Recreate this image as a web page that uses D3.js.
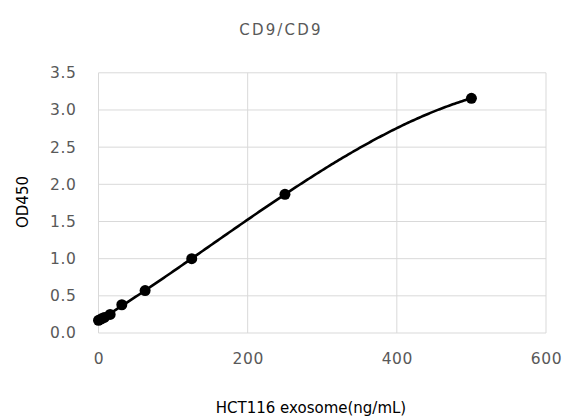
<!DOCTYPE html>
<html><head><meta charset="utf-8">
<script src="https://cdn.jsdelivr.net/npm/d3@7"></script>
<style>body{margin:0;background:#fff}svg text{font-family:"DejaVu Sans",Verdana,sans-serif}</style>
</head><body>
<svg id="c" width="567" height="418"></svg>
<script>
const concentrations = [0, 3.9, 7.8, 15.6, 31.25, 62.5, 125, 250, 500];
const od450 = [0.17, 0.19, 0.21, 0.25, 0.38, 0.57, 1.0, 1.866, 3.157];
const xTicks = [0, 200, 400, 600];
const yTicks = [0, 0.5, 1.0, 1.5, 2.0, 2.5, 3.0, 3.5];
const title = "CD9/CD9";
const xTitle = "HCT116 exosome(ng/mL)";
const yTitle = "OD450";

const svg = d3.select("#c");
const x = d3.scaleLinear().domain([0, 600]).range([98.5, 546]);
const y = d3.scaleLinear().domain([0, 3.5]).range([333, 72.8]);
const data = concentrations.map((c, i) => ({c, v: od450[i]}));

// cubic polynomial trendline (least squares) through the data
function polyFit(xs, ys, deg) {
  const s = d3.max(xs);
  const n = deg + 1;
  const A = Array.from({length: n}, () => new Array(n + 1).fill(0));
  xs.forEach((xv, k) => {
    const u = xv / s;
    for (let i = 0; i < n; i++) {
      for (let j = 0; j < n; j++) A[i][j] += Math.pow(u, i + j);
      A[i][n] += ys[k] * Math.pow(u, i);
    }
  });
  for (let i = 0; i < n; i++) {
    let p = i;
    for (let r = i + 1; r < n; r++) if (Math.abs(A[r][i]) > Math.abs(A[p][i])) p = r;
    [A[i], A[p]] = [A[p], A[i]];
    for (let r = 0; r < n; r++) {
      if (r === i) continue;
      const f = A[r][i] / A[i][i];
      for (let cc = i; cc <= n; cc++) A[r][cc] -= f * A[i][cc];
    }
  }
  const coef = A.map((row, i) => row[n] / row[i]);
  return xv => coef.reduce((acc, cf, i) => acc + cf * Math.pow(xv / s, i), 0);
}
const fit = polyFit(concentrations, od450, 3);
const xMax = d3.max(concentrations);
const curve = d3.range(0, 201).map(i => {
  const c = xMax * i / 200;
  return {c, v: fit(c)};
});

// grid
svg.append("g").selectAll("line").data(yTicks).join("line")
  .attr("x1", x(0)).attr("x2", x(600)).attr("y1", d => y(d)).attr("y2", d => y(d))
  .attr("stroke", "#d9d9d9").attr("stroke-width", 1);
svg.append("g").selectAll("line").data(xTicks).join("line")
  .attr("y1", y(0)).attr("y2", y(3.5)).attr("x1", d => x(d)).attr("x2", d => x(d))
  .attr("stroke", "#d9d9d9").attr("stroke-width", 1);

// axes labels
const yAxis = d3.axisLeft(y).tickValues(yTicks).tickFormat(d3.format(".1f")).tickSize(0).tickPadding(22);
const gy = svg.append("g").attr("transform", `translate(${x(0)},0)`).call(yAxis);
gy.select(".domain").remove();
gy.selectAll("text").attr("font-size", 15.5).attr("fill", "#595959").attr("letter-spacing", 0.6)
  .attr("font-family", "DejaVu Sans");

const xAxis = d3.axisBottom(x).tickValues(xTicks).tickFormat(d3.format("d")).tickSize(0).tickPadding(20);
const gx = svg.append("g").attr("transform", `translate(0,${y(0)})`).call(xAxis);
gx.select(".domain").remove();
gx.selectAll("text").attr("font-size", 15.5).attr("fill", "#595959").attr("letter-spacing", 0.6)
  .attr("font-family", "DejaVu Sans");

// line
const line = d3.line().x(d => x(d.c)).y(d => y(d.v)).curve(d3.curveLinear);
svg.append("path").datum(curve).attr("d", line).attr("fill", "none")
  .attr("stroke", "#000").attr("stroke-width", 2.6).attr("stroke-linejoin", "round").attr("stroke-linecap", "round");
svg.append("g").selectAll("circle").data(data).join("circle")
  .attr("cx", d => x(d.c)).attr("cy", d => y(d.v)).attr("r", 5.5).attr("fill", "#000");

svg.append("text").attr("x", 281).attr("y", 35).attr("text-anchor", "middle")
  .attr("font-size", 15).attr("letter-spacing", 2.2).attr("fill", "#595959").text(title);
svg.append("text").attr("x", 311).attr("y", 413).attr("text-anchor", "middle")
  .attr("font-size", 15).attr("fill", "#000").text(xTitle);
svg.append("text").attr("transform", "translate(28,202) rotate(-90)").attr("text-anchor", "middle")
  .attr("font-size", 15).attr("fill", "#000").text(yTitle);
</script>
</body></html>
